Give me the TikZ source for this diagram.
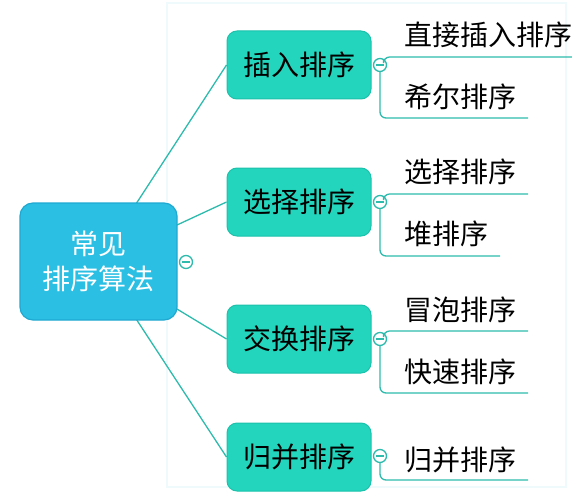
\documentclass[tikz,border=0pt]{standalone}
\usepackage{fontspec}
\setmainfont{Noto Sans CJK SC}
\usetikzlibrary{backgrounds}
\definecolor{maincyan}{HTML}{2BBFE4}
\definecolor{mainborder}{HTML}{1FA9D2}
\definecolor{teal1}{HTML}{22D5BC}
\definecolor{teal1b}{HTML}{1CC2AB}
\definecolor{linec}{HTML}{2DBBAE}
\definecolor{frame}{HTML}{EEFAFB}
\tikzset{
  x=1pt, y=-1pt,
  rootnode/.style={draw=mainborder, line width=1.2pt, fill=maincyan, rounded corners=13pt,
    minimum width=157pt, minimum height=117pt, inner sep=0pt, text=white, align=center,
    font=\fontsize{28}{35}\selectfont},
  catnode/.style={draw=teal1b, line width=1pt, fill=teal1, rounded corners=10pt,
    minimum width=144pt, minimum height=68pt, inner sep=0pt, text=black,
    font=\fontsize{28}{34}\selectfont},
  leafnode/.style={anchor=west, inner sep=0pt, text=black, font=\fontsize{28}{34}\selectfont},
  fold/.style={circle, draw=linec, line width=1.3pt, fill=white, minimum size=13pt, inner sep=0pt,
    path picture={\draw[linec, line width=1.3pt] ([xshift=-4pt]path picture bounding box.center) -- ([xshift=4pt]path picture bounding box.center);}},
  link/.style={draw=linec, line width=1.3pt},
  branch/.style={draw=linec, line width=1.3pt, rounded corners=6pt},
}
\begin{document}
\begin{tikzpicture}
\useasboundingbox (0,0) rectangle (572,500);

% root and categories
\node[rootnode] (root) at (98.5,261.5) {常见\\排序算法};
\node[catnode] (c1) at (299,65) {插入排序};
\node[catnode] (c2) at (299,202) {选择排序};
\node[catnode] (c3) at (299,339) {交换排序};
\node[catnode] (c4) at (299,457) {归并排序};

\begin{scope}[on background layer]
  \draw[frame, line width=2.5pt] (167,3) rectangle (566,487);
  \foreach \c in {c1,c2,c3,c4} \draw[link] (root.center) -- (\c.west);
\end{scope}

\node[fold] (f0) at (186,262) {};

% fold circles
\node[fold] (f1) at (380,65) {};
\node[fold] (f2) at (380,202) {};
\node[fold] (f3) at (380,339) {};
\node[fold] (f4) at (380,456) {};

% leaves
\node[leafnode] (l11) at (404,35) {直接插入排序};
\node[leafnode] (l12) at (404,97) {希尔排序};
\node[leafnode] (l21) at (404,172) {选择排序};
\node[leafnode] (l22) at (404,234) {堆排序};
\node[leafnode] (l31) at (404,310) {冒泡排序};
\node[leafnode] (l32) at (404,372) {快速排序};
\node[leafnode] (l41) at (404,460) {归并排序};

% line ends
\coordinate (e11) at (572,57);
\coordinate (e12) at (528,118);
\coordinate (e21) at (528,194);
\coordinate (e22) at (500,256);
\coordinate (e31) at (528,331);
\coordinate (e32) at (528,393);
\coordinate (e41) at (528,480);

\draw[branch] (f1.60) |- (e11);
\draw[branch] (f1.south) |- (e12);
\draw[branch] (f2.60) |- (e21);
\draw[branch] (f2.south) |- (e22);
\draw[branch] (f3.60) |- (e31);
\draw[branch] (f3.south) |- (e32);
\draw[branch] (f4.south) |- (e41);
\end{tikzpicture}
\end{document}
